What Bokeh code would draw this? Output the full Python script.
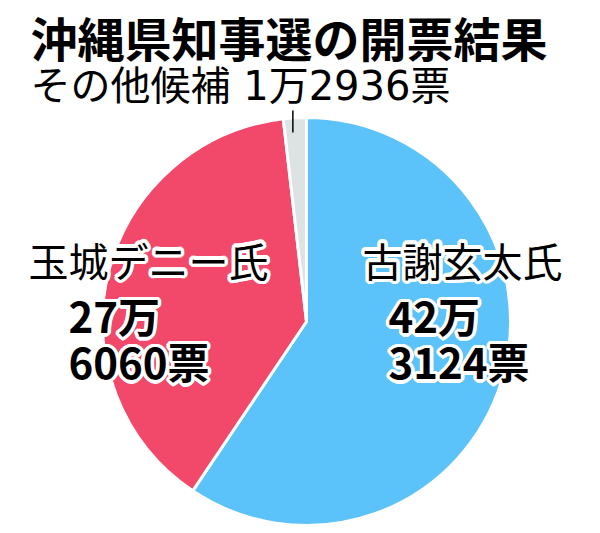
import math
from bokeh.plotting import figure
from bokeh.models import Range1d
from bokeh.core.properties import value
from bokeh.embed import file_html
from bokeh.resources import INLINE

# ---- data ----
title_text = "沖縄県知事選の開票結果"
candidates = ["古謝玄太氏", "玉城デニー氏", "その他候補"]
votes = [423124, 276060, 12936]
colors = ["#5bc3f9", "#f2496b", "#dde3e3"]

W, H = 600, 533
FONT = "Noto Sans CJK JP"
FONT_MIX = "DejaVu Sans, Noto Sans CJK JP"

p = figure(width=W, height=H, output_backend="svg", toolbar_location=None,
           x_range=Range1d(0, W), y_range=Range1d(0, H), min_border=0,
           outline_line_color=None, background_fill_color="white",
           border_fill_color="white")
p.axis.visible = False
p.grid.visible = False

def sx(x):
    return x

def sy(y):
    return H - y

# pie geometry (layout)
cx, cy, r = sx(306), sy(321), 204
total = sum(votes)
starts, ends = [], []
acc = 0.0
for v in votes:
    starts.append(math.pi / 2 - acc / total * 2 * math.pi)
    acc += v
    ends.append(math.pi / 2 - acc / total * 2 * math.pi)

p.wedge(x=[cx] * len(votes), y=[cy] * len(votes), radius=r,
        start_angle=starts, end_angle=ends, direction="clock",
        fill_color=colors, line_color="white", line_width=3)

# leader line for "others" slice
mid = (starts[2] + ends[2]) / 2
lx = cx + r * math.cos(mid) - 2
p.line(x=[lx, lx], y=[sy(110), sy(132)], line_color="black", line_width=1.5)

def man(v):
    return f"{v // 10000}万", f"{v % 10000:04d}票"

def halo_text(x, y, t, size, style="normal", halo=3.5):
    for k in range(16):
        a = 2 * math.pi * k / 16
        p.text(x=[x], y=[y], text=[t], x_offset=halo * math.cos(a),
               y_offset=halo * math.sin(a), text_color="white",
               text_font=value(FONT), text_font_size=size,
               text_font_style=style, text_baseline="middle", text_align="left")
    p.text(x=[x], y=[y], text=[t], text_color="black",
           text_font=value(FONT), text_font_size=size,
           text_font_style=style, text_baseline="middle", text_align="left")

# title
p.text(x=[sx(30)], y=[sy(36)], text=[title_text], text_color="black",
       text_font=value(FONT), text_font_size="47px", text_font_style="bold",
       text_baseline="middle", text_align="left")

# others subtitle
o1, o2 = man(votes[2])
p.text(x=[sx(30)], y=[sy(85)], text=[f"{candidates[2]} {o1}{o2}"], text_color="black",
       text_font=value(FONT_MIX), text_font_size="40px",
       text_baseline="middle", text_align="left")

# labels
k1, k2 = man(votes[0])
halo_text(sx(362), sy(259), candidates[0], "40px")
halo_text(sx(388), sy(314), k1, "42px", "bold")
halo_text(sx(388), sy(360), k2, "42px", "bold")

t1, t2 = man(votes[1])
halo_text(sx(28), sy(259), candidates[1], "40px")
halo_text(sx(68), sy(314), t1, "42px", "bold")
halo_text(sx(68), sy(360), t2, "42px", "bold")

open("out.html", "w").write(file_html(p, INLINE))
